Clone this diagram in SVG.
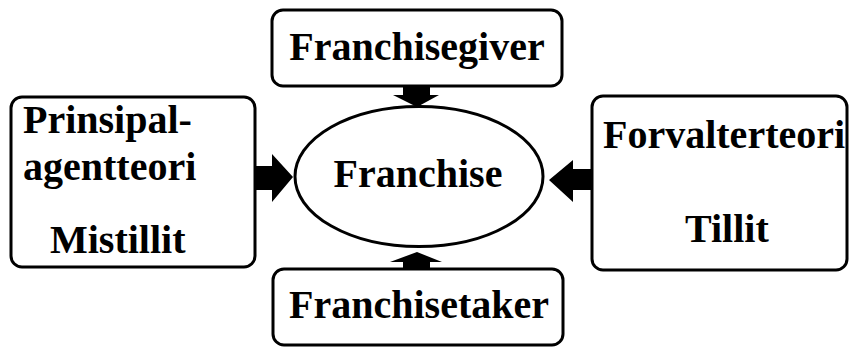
<svg xmlns="http://www.w3.org/2000/svg" width="850" height="347" viewBox="0 0 850 347">
<style>
.box{fill:#fff;stroke:#000;stroke-width:3}
.t{font-family:"Liberation Serif","Times New Roman",serif;font-weight:bold;font-size:40px;fill:#000}
.arr{fill:#000;stroke:none}
</style>
<rect width="850" height="347" fill="#fff"/>
<g id="franchise">
<ellipse cx="419" cy="176.5" rx="124" ry="70" class="box"/>
<text x="418" y="187" class="t" text-anchor="middle">Franchise</text>
</g>
<g id="franchisegiver">
<rect x="272" y="10" width="290" height="76" rx="11" class="box"/>
<text x="417" y="60" class="t" text-anchor="middle">Franchisegiver</text>
</g>
<g id="franchisetaker">
<rect x="273" y="269" width="290" height="76" rx="11" class="box"/>
<text x="419" y="318" class="t" text-anchor="middle">Franchisetaker</text>
</g>
<g id="prinsipal">
<rect x="11" y="97" width="244" height="170" rx="11" class="box"/>
<text x="23" y="133" class="t">Prinsipal-</text>
<text x="23" y="180" class="t">agentteori</text>
<text x="50" y="253" class="t">Mistillit</text>
</g>
<g id="forvalter">
<rect x="592" y="96" width="255" height="174" rx="11" class="box"/>
<text x="603" y="148" class="t">Forvalterteori</text>
<text x="685" y="242" class="t">Tillit</text>
</g>
<g id="connectors">
<polygon class="arr" points="403,86 430,86 430,95 439,95 417,107 393,95 403,95"/>
<polygon class="arr" points="403,269 430,269 430,262 442,262 417,252 390,262 403,262"/>
<polygon class="arr" points="255,166 272,166 272,154 293,177 272,202 272,190 255,190"/>
<polygon class="arr" points="592,169 573,169 573,160 549,180 573,202 573,190 592,190"/>
</g>
</svg>
